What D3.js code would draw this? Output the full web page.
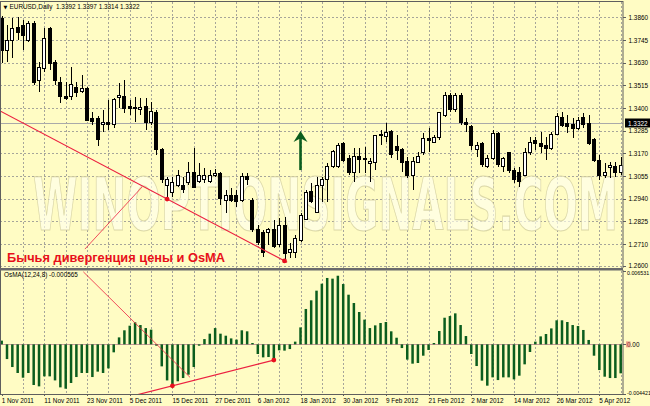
<!DOCTYPE html>
<html><head><meta charset="utf-8">
<script src="https://cdn.jsdelivr.net/npm/d3@7"></script>
<style>
html,body{margin:0;padding:0;background:#fffcc4;}
svg{display:block;}
text{font-family:"Liberation Sans",Arial,sans-serif;}
</style></head><body>
<svg id="chart" width="650" height="406"></svg>
<script>
// ---------- DATA ----------
const open = [1.3856,1.3694,1.3745,1.3811,1.3821,1.3745,1.3831,1.3542,1.3603,1.3806,
1.3633,1.3532,1.3456,1.3456,1.3506,1.3486,1.3501,1.3349,1.3349,1.3314,
1.3324,1.3314,1.3451,1.3456,1.3410,1.3400,1.3395,1.3410,1.3329,1.3375,
1.3187,1.3009,1.2969,1.3009,1.3009,1.3020,1.3075,1.3025,1.3035,1.3025,
1.3060,1.3070,1.2933,1.2958,1.2958,1.2933,1.3050,1.2933,1.2781,1.2766,
1.2766,1.2781,1.2705,1.2806,1.2669,1.2669,1.2730,1.2832,1.2974,1.2872,
1.3009,1.3035,1.3101,1.3101,1.3222,1.3146,1.3075,1.3156,1.3141,1.3116,
1.3126,1.3263,1.3253,1.3283,1.3207,1.3187,1.3131,1.3060,1.3126,1.3172,
1.3243,1.3227,1.3248,1.3364,1.3466,1.3390,1.3466,1.3324,1.3304,1.3187,
1.3222,1.3101,1.3146,1.3273,1.3101,1.3172,1.3085,1.3075,1.3060,1.3172,
1.3233,1.3222,1.3212,1.3192,1.3268,1.3354,1.3319,1.3314,1.3298,1.3354,
1.3319,1.3238,1.3136,1.3060,1.3096,1.3101,1.3075];
const high = [1.3867,1.3821,1.3856,1.3862,1.3846,1.3841,1.3841,1.3633,1.3806,1.3810,
1.3644,1.3557,1.3532,1.3608,1.3532,1.3567,1.3506,1.3380,1.3359,1.3390,
1.3441,1.3451,1.3527,1.3542,1.3441,1.3456,1.3451,1.3451,1.3430,1.3390,
1.3197,1.3050,1.3050,1.3085,1.3050,1.3126,1.3197,1.3121,1.3096,1.3085,
1.3091,1.3075,1.2984,1.2994,1.2984,1.3070,1.3070,1.2943,1.2806,1.2781,
1.2791,1.2832,1.2842,1.2847,1.2715,1.2755,1.2867,1.2984,1.3020,1.3050,
1.3050,1.3121,1.3187,1.3222,1.3227,1.3162,1.3197,1.3197,1.3202,1.3146,
1.3263,1.3288,1.3324,1.3288,1.3263,1.3197,1.3151,1.3151,1.3177,1.3273,
1.3298,1.3263,1.3380,1.3481,1.3476,1.3476,1.3476,1.3349,1.3314,1.3227,
1.3227,1.3162,1.3288,1.3278,1.3151,1.3177,1.3096,1.3101,1.3197,1.3253,
1.3253,1.3278,1.3253,1.3278,1.3375,1.3380,1.3364,1.3349,1.3354,1.3375,
1.3364,1.3248,1.3162,1.3121,1.3126,1.3126,1.3151];
const low = [1.3628,1.3633,1.3654,1.3745,1.3694,1.3735,1.3517,1.3481,1.3583,1.3593,
1.3517,1.3425,1.3441,1.3441,1.3456,1.3476,1.3334,1.3314,1.3207,1.3278,
1.3288,1.3298,1.3400,1.3375,1.3364,1.3329,1.3364,1.3288,1.3314,1.3162,
1.3020,1.2938,1.2948,1.2999,1.2969,1.3009,1.2994,1.3020,1.3020,1.3020,
1.3050,1.2908,1.2867,1.2923,1.2898,1.2923,1.3009,1.2771,1.2705,1.2644,
1.2705,1.2690,1.2695,1.2624,1.2639,1.2639,1.2720,1.2832,1.2918,1.2867,
1.2923,1.2923,1.3096,1.3096,1.3126,1.3060,1.3025,1.3070,1.3070,1.3025,
1.3085,1.3212,1.3227,1.3146,1.3136,1.3075,1.3045,1.2984,1.3121,1.3162,
1.3177,1.3222,1.3238,1.3354,1.3380,1.3380,1.3314,1.3278,1.3187,1.3151,
1.3101,1.3096,1.3136,1.3101,1.3075,1.3070,1.3020,1.2999,1.3055,1.3162,
1.3187,1.3172,1.3136,1.3187,1.3263,1.3304,1.3273,1.3248,1.3288,1.3298,
1.3212,1.3126,1.3035,1.3045,1.3045,1.3050,1.3060];
const close = [1.3694,1.3745,1.3806,1.3785,1.3770,1.3831,1.3532,1.3608,1.3755,1.3628,
1.3542,1.3456,1.3446,1.3517,1.3481,1.3501,1.3339,1.3334,1.3238,1.3324,
1.3314,1.3441,1.3466,1.3400,1.3400,1.3405,1.3405,1.3329,1.3380,1.3187,
1.3035,1.3035,1.3020,1.3060,1.2984,1.3075,1.2999,1.3060,1.3055,1.3055,
1.3070,1.2943,1.2958,1.2933,1.2928,1.3050,1.3035,1.2781,1.2715,1.2669,
1.2781,1.2695,1.2806,1.2664,1.2680,1.2740,1.2857,1.2969,1.2923,1.3009,
1.3035,1.3101,1.3177,1.3212,1.3136,1.3075,1.3156,1.3141,1.3146,1.3131,
1.3258,1.3268,1.3278,1.3162,1.3182,1.3126,1.3060,1.3131,1.3156,1.3243,
1.3233,1.3248,1.3375,1.3466,1.3390,1.3466,1.3324,1.3314,1.3212,1.3212,
1.3111,1.3146,1.3273,1.3111,1.3146,1.3085,1.3035,1.3025,1.3172,1.3227,
1.3222,1.3207,1.3197,1.3268,1.3359,1.3309,1.3304,1.3298,1.3339,1.3314,
1.3222,1.3136,1.3060,1.3075,1.3106,1.3075,1.3106];
const osma = [0.00033,-0.00131,-0.00202,-0.00255,-0.00297,-0.00255,-0.00362,-0.00374,-0.00285,-0.00285,
-0.00321,-0.00383,-0.00395,-0.00344,-0.00291,-0.00255,-0.00255,-0.00291,-0.00243,-0.00255,
-0.00214,-0.00071,0.00062,0.00125,0.00166,0.00196,0.00172,0.00145,0.00131,-0.00012,
-0.00196,-0.00321,-0.00365,-0.00329,-0.00300,-0.00270,-0.00202,-0.00012,0.00047,0.00095,
0.00145,0.00095,0.00077,0.00053,0.00042,0.00125,0.00116,0.00012,-0.00086,-0.00116,
-0.00113,-0.00131,-0.00053,-0.00056,-0.00042,0.00024,0.00151,0.00315,0.00392,0.00478,
0.00540,0.00591,0.00585,0.00611,0.00537,0.00442,0.00368,0.00288,0.00220,0.00145,
0.00169,0.00190,0.00199,0.00116,0.00059,-0.00033,-0.00136,-0.00172,-0.00166,-0.00101,
-0.00050,0.00012,0.00119,0.00237,0.00252,0.00276,0.00172,0.00074,-0.00086,-0.00193,
-0.00323,-0.00368,-0.00294,-0.00318,-0.00294,-0.00294,-0.00312,-0.00279,-0.00178,-0.00068,
0.00024,0.00071,0.00092,0.00142,0.00214,0.00214,0.00199,0.00172,0.00163,0.00128,
0.00039,-0.00101,-0.00229,-0.00288,-0.00300,-0.00300,-0.00258];
const dateBars   = [0,8,16,24,32,40,48,56,64,72,80,88,96,104,112];
const dateLabels = ["1 Nov 2011","11 Nov 2011","23 Nov 2011","5 Dec 2011","15 Dec 2011","27 Dec 2011",
  "6 Jan 2012","18 Jan 2012","30 Jan 2012","9 Feb 2012","21 Feb 2012","2 Mar 2012",
  "14 Mar 2012","26 Mar 2012","5 Apr 2012"];
const priceTicks = [1.3860,1.3745,1.3630,1.3515,1.3400,1.3285,1.3170,1.3055,1.2940,1.2825,1.2710,1.2600];
const osmaTicks = [0.006531, 0, -0.004421];
const osmaTickLabels = ["0.006531","0.00","-0.004421"];
const lastPrice = 1.3322;
const headerText = "EURUSD,Daily  1.3392 1.3397 1.3314 1.3322";
const osmaTitle = "OsMA(12,24,8) -0.000565";
const annotationText = "Бычья дивергенция цены и OsMA";
const watermarkText = "WINOPTIONSIGNALS.COM";
// divergence drawings (bar index, value)
const priceTrendLine = [[-0.3,1.3385],[53.5,1.2617]];
const priceDots = [[31,1.2938],[53,1.2624]];
const osmaTrendLine = [[25.3,-0.0045],[51,-0.0014]];
const osmaDots = [[32,-0.00369],[51,-0.0014]];
const pricePointer = [[15.6,1.2684],[26.3,1.2999]];
const osmaPointer = [[15.3,0.00646],[35.3,-0.00294]];
const signalArrow = {bar:56, from:1.3085, to:1.3283};

// ---------- LAYOUT ----------
const W = 650, H = 406;
const plotRight = 622.5;
const svg = d3.select("#chart");
const x = d3.scaleLinear().domain([0, open.length-1]).range([1.67, 620.7]);
const yP = d3.scaleLinear().domain([1.2588, 1.3933]).range([268, 3]);
const yO = d3.scaleLinear().domain([-0.004421, 0.006531]).range([394, 271]);
const BG = "#fffcc4", GRID = "#a6a59a", FRAME = "#5e5e5e";
const RED = "#ec2040", GREEN = "#0b5d1e";

svg.append("rect").attr("width",W).attr("height",H).attr("fill",BG);

const defs = svg.append("defs");
defs.append("clipPath").attr("id","cp").append("rect").attr("x",0).attr("y",2).attr("width",plotRight).attr("height",266);
defs.append("clipPath").attr("id","co").append("rect").attr("x",0).attr("y",271).attr("width",plotRight).attr("height",123);

// grid
const grid = svg.append("g").attr("stroke",GRID).attr("stroke-dasharray","2,2").attr("shape-rendering","crispEdges");
grid.selectAll("line.h").data(priceTicks).join("line")
  .attr("x1",0).attr("x2",plotRight).attr("y1",d=>Math.round(yP(d))+0.5).attr("y2",d=>Math.round(yP(d))+0.5);
const vBars = d3.range(4, open.length, 4);
grid.selectAll("line.vp").data(vBars).join("line")
  .attr("x1",d=>Math.round(x(d))+0.5).attr("x2",d=>Math.round(x(d))+0.5).attr("y1",2).attr("y2",268);
grid.selectAll("line.vo").data(vBars).join("line").attr("class","vo")
  .attr("x1",d=>Math.round(x(d))+0.5).attr("x2",d=>Math.round(x(d))+0.5).attr("y1",271).attr("y2",394);

// watermark (condensed via vertical stretch so its natural width fits)
svg.append("text").attr("transform","translate(33,230) scale(1,1.95)")
  .attr("x",0).attr("y",0)
  .attr("textLength",585).attr("lengthAdjust","spacingAndGlyphs")
  .style("font-family","DejaVu Sans").style("font-weight","bold").style("font-size","37px")
  .attr("fill","#ffffee").attr("fill-opacity",0.65)
  .attr("stroke","#cfcb9a").attr("stroke-opacity",0.75).attr("stroke-width",0.6)
  .text(watermarkText);

// bid line
svg.append("line").attr("x1",0).attr("x2",plotRight)
  .attr("y1",Math.round(yP(lastPrice))+0.5).attr("y2",Math.round(yP(lastPrice))+0.5)
  .attr("stroke","#a9a9a9").attr("shape-rendering","crispEdges");

// candles
const bars = d3.range(open.length).map(i=>({i,o:open[i],h:high[i],l:low[i],c:close[i]}));
const cg = svg.append("g").attr("clip-path","url(#cp)").attr("shape-rendering","crispEdges");
cg.selectAll("line").data(bars).join("line")
  .attr("x1",d=>Math.round(x(d.i))+0.5).attr("x2",d=>Math.round(x(d.i))+0.5)
  .attr("y1",d=>yP(d.h)).attr("y2",d=>yP(d.l)).attr("stroke","#000");
cg.selectAll("rect").data(bars).join("rect")
  .attr("x",d=>Math.round(x(d.i))-1.5).attr("width",3)
  .attr("y",d=>yP(Math.max(d.o,d.c)))
  .attr("height",d=>Math.max(1,Math.abs(yP(d.o)-yP(d.c))))
  .attr("fill",d=>d.c>=d.o?"#ffffff":"#000000").attr("stroke","#000");

// price divergence drawings
const lineP = d3.line().x(d=>x(d[0])).y(d=>yP(d[1]));
const lineO = d3.line().x(d=>x(d[0])).y(d=>yO(d[1]));
const pd = svg.append("g").attr("clip-path","url(#cp)");
pd.append("path").attr("d",lineP(priceTrendLine)).attr("stroke",RED).attr("stroke-width",1.2).attr("fill","none");
pd.append("path").attr("d",lineP(pricePointer)).attr("stroke",RED).attr("stroke-width",0.8).attr("fill","none");
pd.selectAll("circle").data(priceDots).join("circle")
  .attr("cx",d=>x(d[0])).attr("cy",d=>yP(d[1])).attr("r",2.4).attr("fill","#e8101e");

// signal arrow
const ax = x(signalArrow.bar), aTop = yP(signalArrow.to), aBot = yP(signalArrow.from);
svg.append("line").attr("x1",ax).attr("x2",ax).attr("y1",aTop+8).attr("y2",aBot)
  .attr("stroke",GREEN).attr("stroke-width",2.6);
svg.append("path").attr("d",`M${ax},${aTop} L${ax-7},${aTop+11} L${ax-1.3},${aTop+8} L${ax+1.3},${aTop+8} L${ax+7},${aTop+11} Z`)
  .attr("fill",GREEN);

// annotation
svg.append("text").attr("x",7).attr("y",261.5)
  .attr("textLength",218).attr("lengthAdjust","spacingAndGlyphs")
  .style("font-size","12.5px").style("font-weight","bold").attr("fill","#e8101a")
  .text(annotationText);

// OsMA
const og = svg.append("g").attr("clip-path","url(#co)");
og.append("line").attr("x1",0).attr("x2",plotRight)
  .attr("y1",Math.round(yO(0))+0.5).attr("y2",Math.round(yO(0))+0.5).attr("stroke","#c89a9a");
og.selectAll("rect").data(osma.map((v,i)=>({i,v}))).join("rect")
  .attr("x",d=>x(d.i)-1.25).attr("width",2.5)
  .attr("y",d=>Math.min(yO(d.v),yO(0)))
  .attr("height",d=>Math.abs(yO(d.v)-yO(0)))
  .attr("fill",GREEN);
og.append("path").attr("d",lineO(osmaTrendLine)).attr("stroke",RED).attr("stroke-width",1.2).attr("fill","none");
og.append("path").attr("d",lineO(osmaPointer)).attr("stroke",RED).attr("stroke-width",0.8).attr("fill","none");
og.selectAll("circle").data(osmaDots).join("circle")
  .attr("cx",d=>x(d[0])).attr("cy",d=>yO(d[1])).attr("r",2.4).attr("fill","#e8101e");

// frames
const fr = svg.append("g").attr("fill","none").attr("stroke",FRAME).attr("shape-rendering","crispEdges");
fr.append("line").attr("x1",0.5).attr("x2",0.5).attr("y1",1).attr("y2",394);
fr.append("line").attr("x1",0).attr("x2",plotRight).attr("y1",1.5).attr("y2",1.5);
svg.append("rect").attr("x",0).attr("y",268).attr("width",plotRight+0.5).attr("height",2.5).attr("fill","#6a6a6a");
fr.append("line").attr("x1",0).attr("x2",plotRight).attr("y1",394.5).attr("y2",394.5);

// axes
const fs = "6.4px";
const aP = svg.append("g").attr("transform",`translate(${plotRight},0)`)
  .call(d3.axisRight(yP).tickValues(priceTicks).tickFormat(d3.format(".4f")).tickSize(3).tickSizeOuter(0).tickPadding(3));
aP.select(".domain").attr("stroke",FRAME).attr("d","M0.5,1V268");
const aO = svg.append("g").attr("transform",`translate(${plotRight},0)`)
  .call(d3.axisRight(yO).tickValues(osmaTicks).tickFormat((d,i)=>osmaTickLabels[i]).tickSize(3).tickSizeOuter(0).tickPadding(1.5));
aO.select(".domain").attr("stroke",FRAME).attr("d","M0.5,270V394");
const aD = svg.append("g").attr("transform","translate(0,394)")
  .call(d3.axisBottom(x).tickValues(dateBars).tickFormat((d,i)=>dateLabels[i]).tickSize(2).tickSizeOuter(0).tickPadding(2));
aD.select(".domain").remove();
[aP,aO,aD].forEach(a=>{
  a.attr("font-family","Liberation Sans, Arial, sans-serif").attr("font-size",fs);
  a.selectAll(".tick line").attr("stroke",FRAME).attr("shape-rendering","crispEdges");
  a.selectAll(".tick text").attr("fill","#000");
});
aD.selectAll(".tick text").attr("text-anchor","start").attr("dx","-0.5");
aO.selectAll(".tick text").filter(d=>d!==0).style("font-size","5.3px");
aO.selectAll(".tick text").filter(d=>d===0.006531).attr("dy","0.6em");
aO.selectAll(".tick text").filter(d=>d===-0.004421).attr("dy","0em");

// current price box
const yl = yP(lastPrice);
svg.append("rect").attr("x",625).attr("y",Math.round(yl)-4.5).attr("width",25).attr("height",9).attr("fill","#000");
svg.append("text").attr("x",628).attr("y",Math.round(yl)+2.5).attr("fill","#fff").style("font-size",fs)
  .text(d3.format(".4f")(lastPrice));
// zero marker
svg.append("rect").attr("x",626).attr("y",yO(0)-3).attr("width",4.5).attr("height",6).attr("fill","#e06a6a").attr("fill-opacity",0.6);

// titles
svg.append("text").attr("x",3.5).attr("y",8.5).style("font-family","DejaVu Sans").style("font-size","5px").text("▼");
svg.append("text").attr("x",9.5).attr("y",9).style("font-size",fs).attr("fill","#000").attr("xml:space","preserve").text(headerText);
svg.append("text").attr("x",4).attr("y",277).style("font-size",fs).attr("fill","#000").text(osmaTitle);
</script>
</body></html>
